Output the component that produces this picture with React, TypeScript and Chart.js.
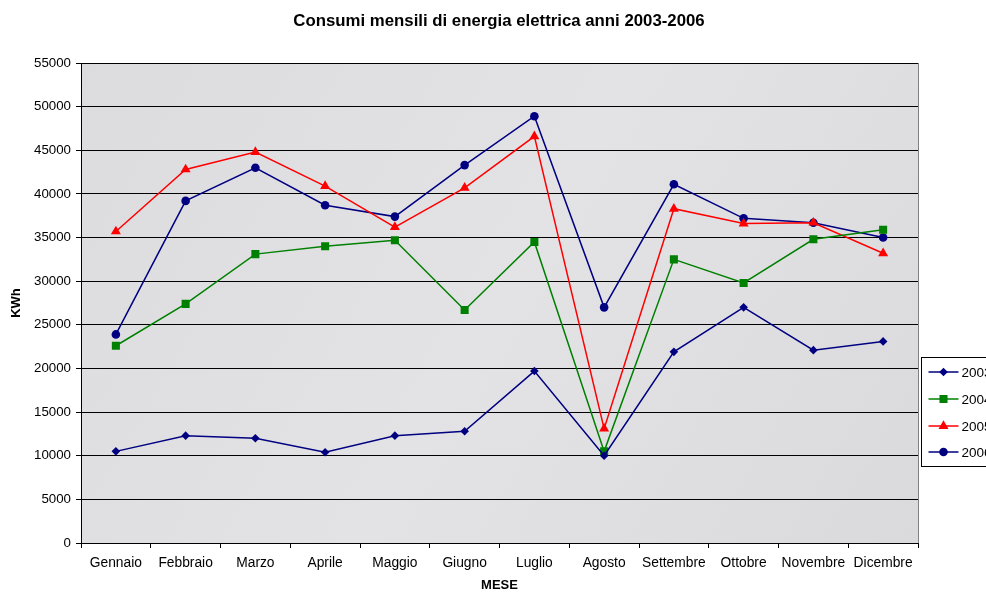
import React, { useEffect, useRef } from "react";
import { Chart, registerables } from "chart.js";

Chart.register(...registerables);

const titleText = "Consumi mensili di energia elettrica anni 2003-2006";
const months = ["Gennaio", "Febbraio", "Marzo", "Aprile", "Maggio", "Giugno", "Luglio", "Agosto", "Settembre", "Ottobre", "Novembre", "Dicembre"];
const seriesNames = ["2003", "2004", "2005", "2006"];
const v2003 = [10500, 12300, 12000, 10400, 12300, 12800, 19700, 10000, 21900, 27000, 22100, 23100];
const v2004 = [22600, 27400, 33100, 34000, 34700, 26700, 34500, 10500, 32500, 29800, 34800, 35900];
const v2005 = [35700, 42800, 44800, 40900, 36200, 40700, 46600, 13100, 38300, 36600, 36700, 33200];
const v2006 = [23900, 39200, 43000, 38700, 37400, 43300, 48900, 27000, 41100, 37200, 36700, 35000];
const yTicks = { min: 0, max: 55000, step: 5000 };

const colors = ["#000080", "#008000", "#FF0000", "#000080"];
const shapes = ["rectRot", "rect", "triangle", "circle"];
const radii = [4.3, 5.7, 5.8, 4.3];
const FONT = "'Liberation Sans', Arial, sans-serif";

function drawMarker(ctx: CanvasRenderingContext2D, shape: string, x: number, y: number, r: number, color: string) {
  ctx.save();
  ctx.fillStyle = color;
  ctx.beginPath();
  if (shape === "rectRot") {
    ctx.moveTo(x, y - r);
    ctx.lineTo(x + r, y);
    ctx.lineTo(x, y + r);
    ctx.lineTo(x - r, y);
    ctx.closePath();
  } else if (shape === "rect") {
    const h = r * Math.SQRT1_2;
    ctx.rect(x - h, y - h, 2 * h, 2 * h);
  } else if (shape === "triangle") {
    ctx.moveTo(x, y - r);
    ctx.lineTo(x + r * 0.866, y + r * 0.5);
    ctx.lineTo(x - r * 0.866, y + r * 0.5);
    ctx.closePath();
  } else {
    ctx.arc(x, y, r, 0, Math.PI * 2);
  }
  ctx.fill();
  ctx.restore();
}

const bgPlugin = {
  id: "plotBg",
  beforeDraw(chart: any) {
    const { ctx, chartArea } = chart;
    ctx.save();
    const g = ctx.createLinearGradient(chartArea.left, chartArea.top, chartArea.right, chartArea.bottom);
    g.addColorStop(0, "#dcdcdf");
    g.addColorStop(0.5, "#e3e3e6");
    g.addColorStop(1, "#dadadd");
    ctx.fillStyle = g;
    ctx.fillRect(chartArea.left, chartArea.top, chartArea.right - chartArea.left, chartArea.bottom - chartArea.top);
    // title
    ctx.fillStyle = "#000";
    ctx.font = "bold 16.8px " + FONT;
    ctx.textAlign = "center";
    ctx.textBaseline = "middle";
    ctx.fillText(titleText, 499, 21);
    ctx.restore();
  },
  afterDraw(chart: any) {
    const { ctx, chartArea } = chart;
    ctx.save();
    ctx.strokeStyle = "#808080";
    ctx.lineWidth = 1;
    ctx.beginPath();
    ctx.moveTo(chartArea.right + 0.5, chartArea.top);
    ctx.lineTo(chartArea.right + 0.5, chartArea.bottom);
    ctx.stroke();
    // legend
    const lx = chartArea.right + 3.5;
    const ly = 357.5;
    ctx.fillStyle = "#ffffff";
    ctx.fillRect(lx, ly, 90, 109);
    ctx.strokeStyle = "#000000";
    ctx.strokeRect(lx, ly, 90, 109);
    const rowY = [372, 399, 426, 452];
    ctx.font = "13.5px " + FONT;
    ctx.textBaseline = "middle";
    ctx.textAlign = "left";
    seriesNames.forEach((name, i) => {
      const y = rowY[i];
      ctx.strokeStyle = colors[i];
      ctx.lineWidth = 1.5;
      ctx.beginPath();
      ctx.moveTo(lx + 7, y);
      ctx.lineTo(lx + 37, y);
      ctx.stroke();
      drawMarker(ctx, shapes[i], lx + 22, y, radii[i], colors[i]);
      ctx.fillStyle = "#000";
      ctx.fillText(name, lx + 40, y + 1);
    });
    ctx.restore();
  },
};

export default function App() {
  const ref = useRef<HTMLCanvasElement>(null);
  useEffect(() => {
    document.body.style.margin = "0";
    document.body.style.overflow = "hidden";
    Chart.defaults.font.family = FONT;
    Chart.defaults.color = "#000";
    const data = [v2003, v2004, v2005, v2006];
    const chart = new Chart(ref.current!, {
      type: "line",
      data: {
        labels: months,
        datasets: seriesNames.map((n, i) => ({
          label: n,
          data: data[i],
          borderColor: colors[i],
          backgroundColor: colors[i],
          pointBackgroundColor: colors[i],
          pointBorderColor: colors[i],
          pointStyle: shapes[i] as any,
          pointRadius: radii[i],
          pointBorderWidth: 0,
          borderWidth: 1.5,
          tension: 0,
          fill: false,
        })),
      },
      options: {
        animation: false,
        responsive: false,
        layout: { padding: { left: 0, right: 68, top: 63, bottom: 0 } },
        plugins: {
          legend: { display: false },
          tooltip: { enabled: false },
          title: { display: false },
        },
        scales: {
          x: {
            offset: true,
            grid: { offset: true, drawOnChartArea: false, drawTicks: true, tickLength: 5, color: "#000" },
            border: { color: "#000" },
            ticks: { padding: 7, font: { size: 13.8 }, color: "#000", maxRotation: 0, autoSkip: false },
            title: { display: true, text: "MESE", font: { size: 13, weight: "bold", lineHeight: 1 }, padding: { top: 0, bottom: 0 }, color: "#000" },
            afterFit: (s: any) => { s.height = 49; },
          },
          y: {
            min: yTicks.min,
            max: yTicks.max,
            grid: { color: "#000", tickLength: 5, drawTicks: true },
            border: { color: "#000" },
            ticks: { stepSize: yTicks.step, padding: 5, font: { size: 13.3 }, color: "#000", callback: (v: any) => String(v) },
            title: { display: true, text: "KWh", font: { size: 13, weight: "bold", lineHeight: 1 }, padding: { top: 10, bottom: 0 }, color: "#000" },
            afterFit: (s: any) => { s.width = 81; },
          },
        },
      },
      plugins: [bgPlugin],
    });
    return () => chart.destroy();
  }, []);
  return (
    <div style={{ position: "fixed", left: 0, top: 0, width: 986, height: 592, background: "#fff" }}>
      <canvas ref={ref} width={986} height={592} style={{ width: 986, height: 592 }} />
    </div>
  );
}
